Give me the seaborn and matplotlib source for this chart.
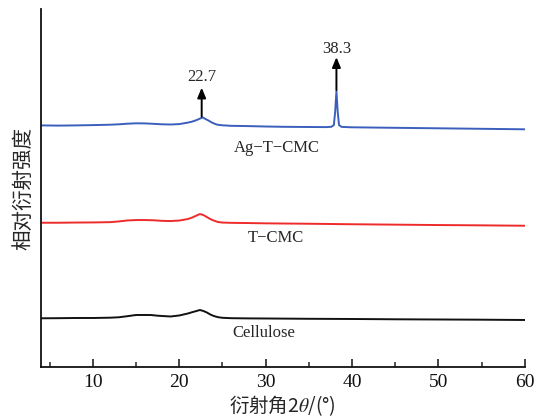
import matplotlib
matplotlib.use("Agg")
import matplotlib.pyplot as plt
import seaborn as sns
import pandas as pd
from matplotlib.ticker import MultipleLocator

# ---- data (arbitrary intensity units) ----
cell_x = [4, 6, 8, 10, 12, 13, 14, 15, 16, 16.7, 17.5, 18, 19, 20, 21, 21.5, 22, 22.4, 22.8, 23.2, 23.6, 24, 24.5, 25, 26, 28, 30, 35, 40, 45, 50, 55, 60]
cell_y = [48.7, 48.8, 49, 49, 49.3, 49.7, 50.8, 52, 52, 52, 51.3, 51, 50.5, 51.5, 53.5, 54.8, 56, 57, 56, 54.5, 52.5, 51, 49.8, 49.2, 48.8, 48.6, 48.5, 48.2, 48, 47.7, 47.5, 47.3, 47]

tcmc_x = [4, 6, 8, 10, 12, 13, 14, 15, 16, 17, 18, 19, 20, 21, 21.5, 22, 22.4, 22.8, 23.2, 23.6, 24, 24.5, 25, 26, 28, 30, 35, 40, 45, 50, 55, 60]
tcmc_y = [144.3, 144.3, 144.5, 144.6, 144.9, 145.6, 146.6, 147, 147, 146.8, 146.2, 146, 146.5, 148, 149.5, 151.5, 153, 152, 150, 148, 146.5, 145, 144.5, 144.2, 144, 143.7, 143.3, 142.8, 142.4, 142, 141.7, 141.3]

ag_x = [4, 6, 8, 10, 12, 13, 14, 15, 16, 17, 18, 19, 20, 21, 21.5, 22, 22.4, 22.7, 23, 23.4, 23.8, 24.2, 24.5, 25, 26, 28, 30, 32, 35, 37, 37.6, 37.9, 38.05, 38.2, 38.35, 38.5, 38.8, 40, 45, 50, 55, 60]
ag_y = [241.7, 241.5, 241.7, 242, 242.4, 242.8, 243.4, 243.8, 243.7, 243.3, 242.8, 242.6, 243, 244.5, 245.5, 247, 248.5, 249.7, 248.3, 246.5, 244.5, 243, 242.3, 241.8, 241.3, 241, 240.6, 240.3, 240.1, 240, 240.3, 242, 255, 276, 255, 242, 240.2, 239.8, 239.3, 238.8, 238.3, 237.8]

series_names = ["Cellulose", "T\u2212CMC", "Ag\u2212T\u2212CMC"]
series_colors = ["#111111", "#ee2b2b", "#3b5fbd"]

xticks_major = [10, 20, 30, 40, 50, 60]
peak_labels = ["22.7", "38.3"]
peak_x = [22.6, 38.2]
peak_top = [250.5, 277]

df = pd.concat([
    pd.DataFrame({"x": cell_x, "y": cell_y, "s": series_names[0]}),
    pd.DataFrame({"x": tcmc_x, "y": tcmc_y, "s": series_names[1]}),
    pd.DataFrame({"x": ag_x, "y": ag_y, "s": series_names[2]}),
], ignore_index=True)

sns.set_style("ticks")
plt.rcParams["font.family"] = ["Liberation Serif", "Noto Sans CJK SC", "DejaVu Sans"]
plt.rcParams["mathtext.fontset"] = "stix"

fig = plt.figure(figsize=(5.36, 4.17), dpi=100)
ax = fig.add_axes([0.0765, 0.12, 0.9025, 0.858])

sns.lineplot(data=df, x="x", y="y", hue="s", palette=dict(zip(series_names, series_colors)),
             hue_order=series_names, sort=False, estimator=None, linewidth=1.4, ax=ax, legend=False)

ax.set_xlim(4, 60)
ax.set_ylim(0, 358)
ax.set_yticks([])
ax.set_xticks(xticks_major)
ax.xaxis.set_minor_locator(MultipleLocator(5))
ax.tick_params(axis="x", which="major", direction="in", length=6, width=1.1, labelsize=14, pad=5, colors="#111111")
ax.tick_params(axis="x", which="minor", direction="in", length=3.5, width=1.1)
for sp in ["top", "right"]:
    ax.spines[sp].set_visible(False)
for sp in ["left", "bottom"]:
    ax.spines[sp].set_linewidth(1.3)
    ax.spines[sp].set_color("#111111")

ax.set_xlabel("衍射角2$\\theta$/(°)", fontsize=14, labelpad=2,
              family=["Noto Sans CJK SC", "DejaVu Sans"])
ax.set_ylabel("相对衍射强度", fontsize=14.8, labelpad=5,
              family=["Noto Sans CJK SC", "DejaVu Sans"])

# series labels
ax.text(31.3, 219, series_names[2], ha="center", va="center", fontsize=12)
ax.text(31.2, 129, series_names[1], ha="center", va="center", fontsize=12)
ax.text(29.75, 34, series_names[0], ha="center", va="center", fontsize=12)

# arrows and peak labels
arrow_len = [29, 33]
label_gap = [11, 8]
for lab, px, pt, al, gap in zip(peak_labels, peak_x, peak_top, arrow_len, label_gap):
    ax.annotate("", xy=(px, pt + al), xytext=(px, pt),
                arrowprops=dict(arrowstyle="-|>,head_width=0.25,head_length=0.6", color="black", lw=1.4,
                                shrinkA=0, shrinkB=0))
    ax.text(px, pt + al + gap, lab, ha="center", va="center", fontsize=12)

fig.savefig("out.png", dpi=100)
